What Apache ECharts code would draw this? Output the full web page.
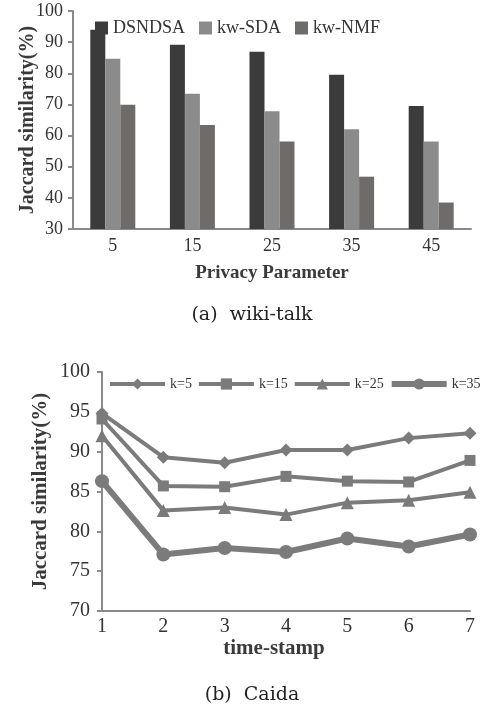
<!DOCTYPE html>
<html><head><meta charset="utf-8">
<script src="https://cdn.jsdelivr.net/npm/echarts@6/dist/echarts.min.js"></script>
<style>html,body{margin:0;padding:0;background:#fff}#c{width:487px;height:709px}</style>
</head><body><div id="c"></div>
<script>
// Panel (a) wiki-talk
const privacyParams = ['5', '15', '25', '35', '45'];
const dsndsa = [94.0, 89.2, 86.9, 79.5, 69.5];
const kwSDA = [84.7, 73.4, 67.8, 62.0, 58.1];
const kwNMF = [69.9, 63.4, 58.1, 46.8, 38.5];
// Panel (b) Caida
const timeStamps = ['1', '2', '3', '4', '5', '6', '7'];
const k5 = [94.8, 89.3, 88.6, 90.2, 90.2, 91.7, 92.3];
const k15 = [94.1, 85.7, 85.6, 86.9, 86.3, 86.2, 88.9];
const k25 = [92.0, 82.6, 83.0, 82.1, 83.6, 83.9, 84.9];
const k35 = [86.3, 77.1, 77.9, 77.4, 79.1, 78.1, 79.6];

const serif = 'Liberation Serif';
const txt = '#333';
const axisCol = '#8a8a8a';
const lineCol = '#7b7b7b';
const nameCol = '#3a3a3a';

const chart = echarts.init(document.getElementById('c'), null, {renderer: 'canvas'});
chart.setOption({
  backgroundColor: '#fff',
  animation: false,
  textStyle: {fontFamily: serif, color: txt},
  title: [
    {text: '(a)  wiki-talk', left: 247, top: 301, textAlign: 'center',
     textStyle: {fontFamily: 'DejaVu Serif', fontWeight: 'normal', fontSize: 19, color: '#222'}},
    {text: '(b)  Caida', left: 247, top: 681, textAlign: 'center',
     textStyle: {fontFamily: 'DejaVu Serif', fontWeight: 'normal', fontSize: 19, color: '#222'}}
  ],
  legend: [
    {data: ['DSNDSA', 'kw-SDA', 'kw-NMF'], left: 90, top: 14, icon: 'rect',
     itemWidth: 13, itemHeight: 13, itemGap: 14,
     textStyle: {fontFamily: serif, fontSize: 18, color: txt}},
    {data: [
       {name: 'k=5', lineStyle: {width: 4}},
       {name: 'k=15', lineStyle: {width: 4}},
       {name: 'k=25', lineStyle: {width: 4}},
       {name: 'k=35', lineStyle: {width: 6}}
     ], left: 103, top: 372, width: 420,
     itemWidth: 55, itemHeight: 14, itemGap: 5,
     textStyle: {fontFamily: serif, fontSize: 14, color: txt}}
  ],
  grid: [
    {left: 73, right: 16, top: 11, bottom: 480, containLabel: false},
    {left: 102, right: 17, top: 372, bottom: 98, containLabel: false}
  ],
  xAxis: [
    {type: 'category', gridIndex: 0, data: privacyParams, boundaryGap: true,
     axisLine: {lineStyle: {color: axisCol, width: 2}}, axisTick: {show: false},
     axisLabel: {fontFamily: serif, fontSize: 18, color: txt, margin: 8},
     name: 'Privacy Parameter', nameLocation: 'middle', nameGap: 35, nameMoveOverlap: false,
     nameTextStyle: {fontFamily: serif, fontSize: 19, fontWeight: 'bold', color: nameCol}},
    {type: 'category', gridIndex: 1, data: timeStamps, boundaryGap: false,
     axisLine: {lineStyle: {color: axisCol, width: 2}}, axisTick: {show: false},
     axisLabel: {fontFamily: serif, fontSize: 20, color: txt, margin: 6},
     name: 'time-stamp', nameLocation: 'middle', nameGap: 27, nameMoveOverlap: false,
     nameTextStyle: {fontFamily: serif, fontSize: 21, fontWeight: 'bold', color: nameCol, padding: [0, 24, 0, 0]}}
  ],
  yAxis: [
    {type: 'value', gridIndex: 0, min: 30, max: 100, interval: 10,
     axisLine: {show: true, lineStyle: {color: axisCol, width: 2}},
     axisTick: {show: true, length: 5, lineStyle: {color: axisCol, width: 2}},
     splitLine: {show: false},
     axisLabel: {fontFamily: serif, fontSize: 18, color: txt, margin: 10},
     name: 'Jaccard similarity(%)', nameLocation: 'middle', nameGap: 35, nameMoveOverlap: false,
     nameTextStyle: {fontFamily: serif, fontSize: 20, fontWeight: 'bold', color: nameCol}},
    {type: 'value', gridIndex: 1, min: 70, max: 100, interval: 5,
     axisLine: {show: true, lineStyle: {color: axisCol, width: 2}},
     axisTick: {show: true, length: 5, lineStyle: {color: axisCol, width: 2}},
     splitLine: {show: false},
     axisLabel: {fontFamily: serif, fontSize: 20, color: txt, margin: 12},
     name: 'Jaccard similarity(%)', nameLocation: 'middle', nameGap: 51, nameMoveOverlap: false,
     nameTextStyle: {fontFamily: serif, fontSize: 21, fontWeight: 'bold', color: nameCol}}
  ],
  series: [
    {name: 'DSNDSA', type: 'bar', xAxisIndex: 0, yAxisIndex: 0, data: dsndsa,
     barWidth: 15, barGap: '0%', itemStyle: {color: '#3b3b3b'}},
    {name: 'kw-SDA', type: 'bar', xAxisIndex: 0, yAxisIndex: 0, data: kwSDA,
     barWidth: 15, barGap: '0%', itemStyle: {color: '#8b8b8b'}},
    {name: 'kw-NMF', type: 'bar', xAxisIndex: 0, yAxisIndex: 0, data: kwNMF,
     barWidth: 15, barGap: '0%', itemStyle: {color: '#706b6b'}},
    {name: 'k=5', type: 'line', xAxisIndex: 1, yAxisIndex: 1, data: k5,
     symbol: 'diamond', symbolSize: 13, lineStyle: {color: lineCol, width: 4},
     itemStyle: {color: lineCol}},
    {name: 'k=15', type: 'line', xAxisIndex: 1, yAxisIndex: 1, data: k15,
     symbol: 'rect', symbolSize: 11, lineStyle: {color: lineCol, width: 4},
     itemStyle: {color: lineCol}},
    {name: 'k=25', type: 'line', xAxisIndex: 1, yAxisIndex: 1, data: k25,
     symbol: 'triangle', symbolSize: 13, lineStyle: {color: lineCol, width: 4},
     itemStyle: {color: lineCol}},
    {name: 'k=35', type: 'line', xAxisIndex: 1, yAxisIndex: 1, data: k35,
     symbol: 'circle', symbolSize: 14, lineStyle: {color: lineCol, width: 6},
     itemStyle: {color: lineCol}}
  ]
});
</script></body></html>
